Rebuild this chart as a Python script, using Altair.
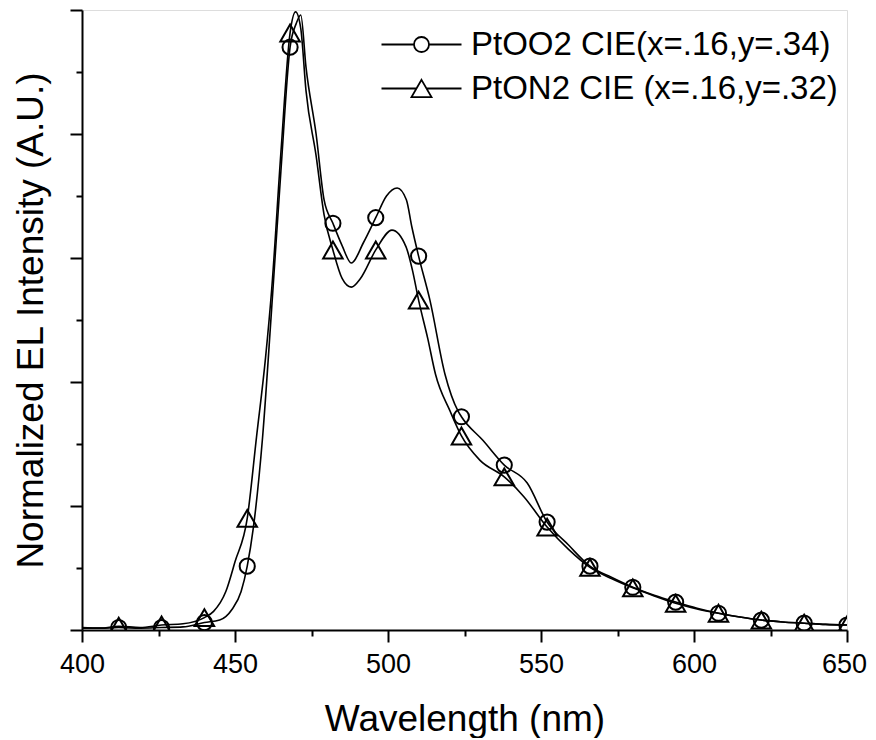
import altair as alt
import pandas as pd

SERIES = ["PtOO2 CIE(x=.16,y=.34)", "PtON2 CIE (x=.16,y=.32)"]

MARKER_WL = [412, 426, 440, 454, 468, 482, 496, 510, 524, 538, 552, 566, 580,
             594, 608, 622, 636, 650]

WL_OO2 = [400, 406, 412, 419, 426, 433, 440, 445, 449, 452, 454, 456, 459, 462,
          465, 468, 470, 471.5, 473.2, 476.5, 479.1, 482, 485, 488, 492, 496,
          499.5, 503, 506, 507.8, 510, 513.7, 518.6, 522.9, 524, 531, 538,
          545.5, 552, 559, 566, 573, 580, 587, 594, 601, 608, 615, 622, 629,
          636, 643, 650]
INT_OO2 = [0.004, 0.003, 0.004, 0.003, 0.004, 0.005, 0.012, 0.016, 0.033, 0.062,
           0.103, 0.165, 0.31, 0.52, 0.74, 0.94, 0.978, 0.992, 0.908, 0.80,
           0.694, 0.656, 0.62, 0.592, 0.625, 0.665, 0.70, 0.713, 0.694, 0.65,
           0.603, 0.532, 0.413, 0.353, 0.344, 0.306, 0.266, 0.237, 0.174,
           0.137, 0.103, 0.085, 0.069, 0.056, 0.045, 0.035, 0.027, 0.021,
           0.016, 0.013, 0.011, 0.009, 0.008]

WL_ON2 = [400, 406, 412, 419, 426, 433, 440, 443, 447, 450, 454, 457, 460, 462,
          465, 468, 469.8, 471.5, 473.2, 476.5, 479.1, 482, 485, 488, 491, 496,
          501.3, 505.9, 508, 510, 513, 515.5, 520.3, 524, 530, 538, 544.4, 552,
          559, 566, 573, 580, 587, 594, 601, 608, 615, 622, 629, 636, 643, 650]
INT_ON2 = [0.003, 0.003, 0.006, 0.004, 0.008, 0.010, 0.020, 0.030, 0.062, 0.11,
           0.180, 0.31, 0.44, 0.55, 0.77, 0.963, 0.997, 0.97, 0.87, 0.765,
           0.67, 0.613, 0.567, 0.553, 0.567, 0.613, 0.645, 0.618, 0.58, 0.532,
           0.47, 0.413, 0.353, 0.313, 0.274, 0.247, 0.215, 0.166, 0.13, 0.101,
           0.083, 0.068, 0.055, 0.043, 0.034, 0.027, 0.021, 0.016, 0.013,
           0.011, 0.009, 0.008]

X_TICKS = list(range(400, 651, 25))
Y_TICKS = [round(i * 0.1, 1) for i in range(11)]

rows = []
for name, wls, vals in [(SERIES[0], WL_OO2, INT_OO2), (SERIES[1], WL_ON2, INT_ON2)]:
    for w, v in zip(wls, vals):
        rows.append({"series": name, "wl": w, "I": v, "marker": w in MARKER_WL})
df = pd.DataFrame(rows)

FONT = "Liberation Sans"

x_enc = alt.X(
    "wl:Q",
    scale=alt.Scale(domain=[400, 650], nice=False, zero=False),
    axis=alt.Axis(
        values=X_TICKS,
        labelExpr="datum.value % 50 == 0 ? datum.label : ''",
        tickSize={"condition": {"test": "datum.value % 50 == 0", "value": 12}, "value": 6},
        labelOffset={"condition": {"test": "datum.value == 650", "value": -3}, "value": 0},
        title="Wavelength (nm)",
        titleFont=FONT, titleFontSize=37, titleFontWeight="normal", titleColor="black",
        titleY=100, titleBaseline="alphabetic",
        labelFont=FONT, labelFontSize=27, labelColor="black", labelPadding=9,
        labelFlush=False, labelOverlap=False, labelBound=False,
        domainColor="black", domainWidth=2, tickColor="black", tickWidth=2, grid=False,
    ),
)
y_enc = alt.Y(
    "I:Q",
    scale=alt.Scale(domain=[0, 1], nice=False, zero=False),
    axis=alt.Axis(
        values=Y_TICKS,
        labels=False,
        tickSize={"condition": {"test": "round(datum.value * 10) % 2 == 0", "value": 12}, "value": 6},
        title="Normalized EL Intensity (A.U.)",
        titleFont=FONT, titleFontSize=37, titleFontWeight="normal", titleColor="black",
        titleX=-40, titleBaseline="alphabetic",
        domainColor="black", domainWidth=2, tickColor="black", tickWidth=2, grid=False,
    ),
)

base = alt.Chart(df)

lines = base.mark_line(color="black", strokeWidth=1.6, interpolate="monotone", clip=True).encode(
    x=x_enc, y=y_enc, detail="series:N"
)

points = base.transform_filter("datum.marker").mark_point(
    filled=False, color="black", strokeWidth=2, opacity=1, clip=True
).encode(
    x=x_enc,
    y=y_enc,
    shape=alt.Shape("series:N", scale=alt.Scale(domain=SERIES, range=["circle", "triangle-up"]), legend=None),
    size=alt.condition(f"datum.series == '{SERIES[0]}'", alt.value(230), alt.value(380)),
)

PATH_CIRCLE = "M-4,0L-0.75,0M0.75,0L4,0M0.75,0A0.75,0.75,0,1,1,-0.75,0A0.75,0.75,0,1,1,0.75,0"
PATH_TRI = "M-4,0L-0.5,0M0.5,0L4,0M0,-0.866L1,0.866L-1,0.866Z"

legend_layer = base.transform_filter("false").mark_point(
    filled=False, color="black", strokeWidth=1.8, opacity=1, size=400
).encode(
    x=x_enc,
    y=y_enc,
    shape=alt.Shape(
        "series:N",
        scale=alt.Scale(domain=SERIES, range=[PATH_CIRCLE, PATH_TRI]),
        legend=alt.Legend(
            title=None, orient="none", legendX=323, legendY=18, padding=0,
            labelFont=FONT, labelFontSize=33, labelColor="black", labelOffset=33,
            labelLimit=0, rowPadding=10, symbolSize=400, symbolStrokeWidth=1.8,
            symbolStrokeColor="black", symbolFillColor="transparent",
        ),
    ),
)

chart = (
    alt.layer(lines, points, legend_layer)
    .resolve_scale(shape="independent")
    .properties(
        width=765, height=620,
        padding={"left": 74, "top": 2, "right": 21, "bottom": 108},
        autosize=alt.AutoSizeParams(type="none"),
        background="white",
    )
    .configure_view(stroke=None)
    .configure(font=FONT)
)

chart.save("out.html", embed_options={"renderer": "svg", "actions": False})
